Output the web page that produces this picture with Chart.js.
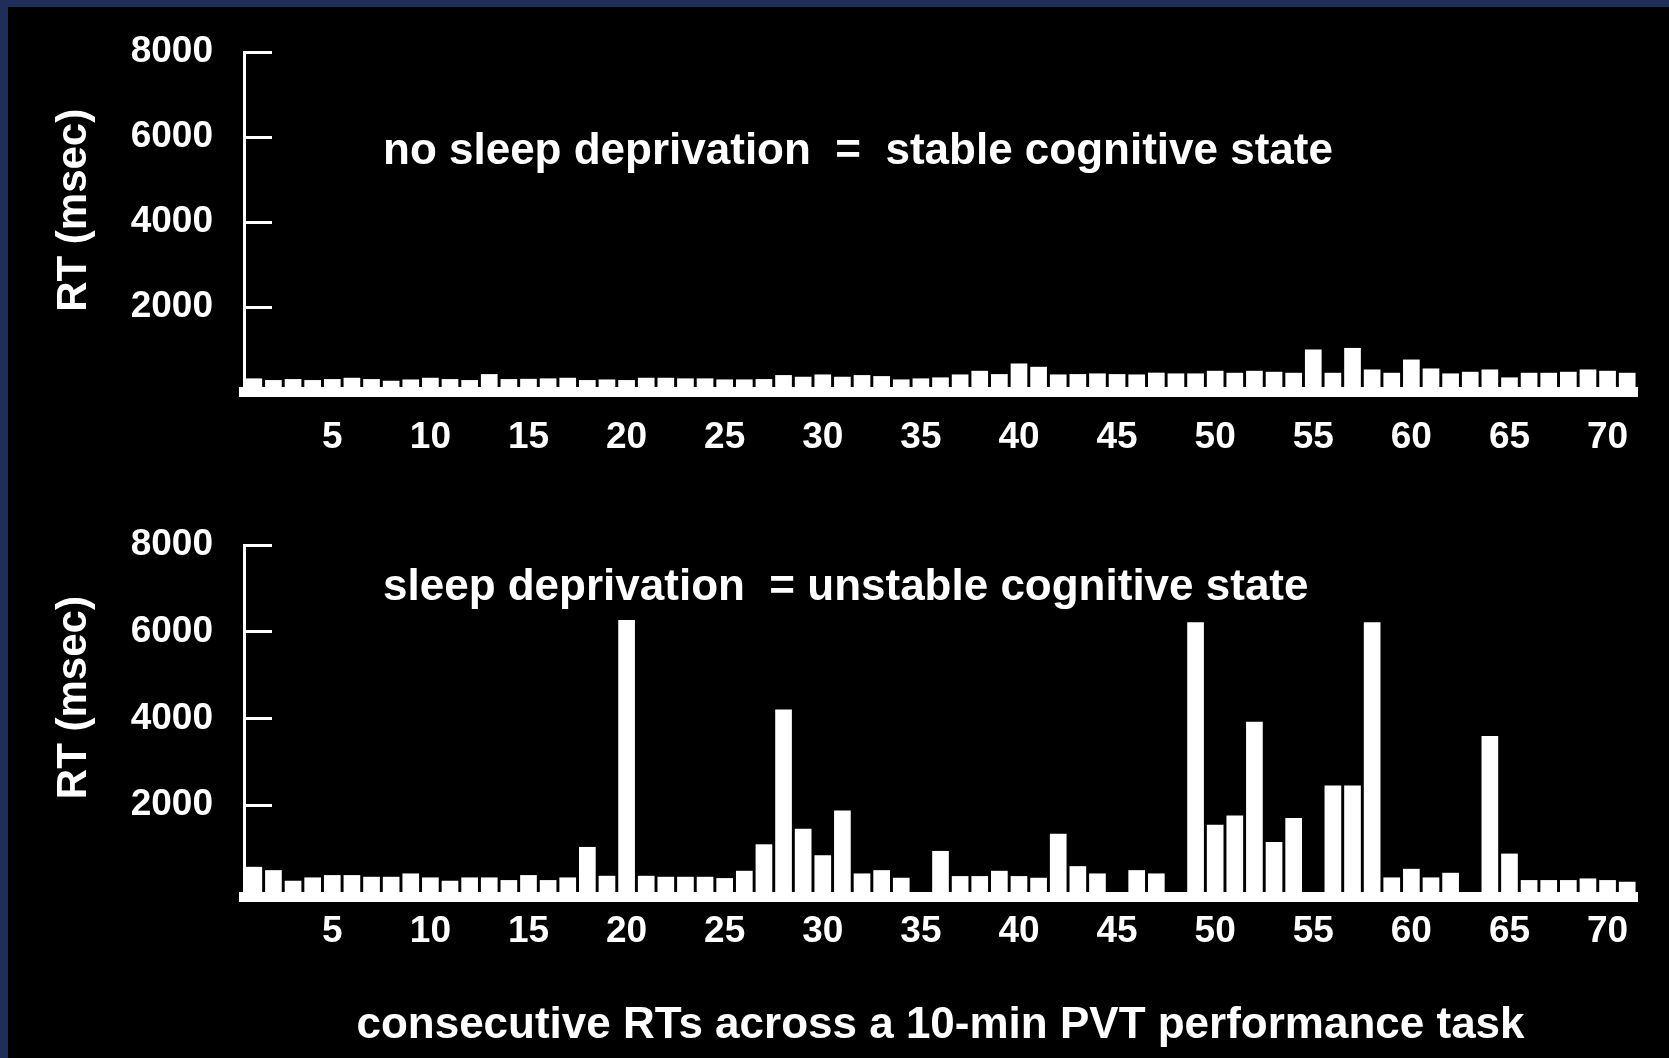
<!DOCTYPE html>
<html>
<head>
<meta charset="utf-8">
<script src="https://cdn.jsdelivr.net/npm/chart.js@4.4.1/dist/chart.umd.min.js"></script>
<style>
  html, body { margin: 0; padding: 0; }
  body { width: 1669px; height: 1058px; background: #1f2e58; position: relative; overflow: hidden; }
  #panel { position: absolute; left: 8px; top: 7px; right: 0; bottom: 0; background: #000; }
  .box { position: absolute; left: 0; width: 1669px; }
  #top { top: 0; height: 470px; }
  #bottom { top: 470px; height: 588px; }
</style>
</head>
<body>
<div id="panel"></div>
<div class="box" id="top"><canvas id="chartTop"></canvas></div>
<div class="box" id="bottom"><canvas id="chartBottom"></canvas></div>
<script>
// consecutive reaction times (trial number on x)
var trials = [1, 2, 3, 4, 5, 6, 7, 8, 9, 10, 11, 12, 13, 14, 15, 16, 17, 18, 19, 20,
              21, 22, 23, 24, 25, 26, 27, 28, 29, 30, 31, 32, 33, 34, 35, 36, 37, 38, 39, 40,
              41, 42, 43, 44, 45, 46, 47, 48, 49, 50, 51, 52, 53, 54, 55, 56, 57, 58, 59, 60,
              61, 62, 63, 64, 65, 66, 67, 68, 69, 70, 71];

var rtNoDeprivation = [320, 281, 304, 281, 304, 335, 304, 265, 295, 335,
                       304, 281, 421, 304, 310, 320, 335, 281, 295, 281,
                       335, 335, 320, 320, 296, 296, 304, 398, 359, 413,
                       359, 398, 374, 296, 320, 343, 413, 499, 421, 671,
                       593, 413, 421, 437, 421, 413, 455, 437, 437, 499,
                       452, 499, 476, 452, 1000, 452, 1037, 530, 452, 764,
                       554, 437, 476, 530, 343, 452, 452, 476, 530, 499, 452];

var rtSleepDeprived = [581, 504, 260, 336, 390, 390, 351, 351, 428, 336,
                       260, 336, 336, 275, 390, 275, 336, 1039, 374, 6273,
                       374, 351, 351, 351, 321, 489, 1100, 4210, 1459, 848,
                       1880, 428, 504, 329, null, 947, 367, 367, 489, 367,
                       329, 1345, 596, 428, null, 504, 428, null, 6220, 1551,
                       1765, 3927, 1154, 1704, null, 2453, 2453, 6220, 336, 535,
                       336, 443, null, 3599, 886, 275, 275, 275, 313, 275, 237];

var xTickLabels = [5, 10, 15, 20, 25, 30, 35, 40, 45, 50, 55, 60, 65, 70];
var yTickValues = [2000, 4000, 6000, 8000];

var FONT = '"Liberation Sans", Arial, sans-serif';
Chart.defaults.font.family = FONT;
Chart.defaults.color = '#ffffff';

// text written inside the plot area
var noteText = {
    id: 'noteText',
    afterDraw: function (chart, args, opts) {
        var ctx = chart.ctx;
        ctx.save();
        ctx.font = 'bold 44px ' + FONT;
        ctx.fillStyle = '#ffffff';
        ctx.textBaseline = 'middle';
        ctx.fillText(opts.text, chart.chartArea.left + opts.dx, chart.chartArea.top + opts.dy);
        ctx.restore();
    }
};

function makeChart(id, values, p) {
    var ctx = document.getElementById(id).getContext('2d');
    return new Chart(ctx, {
        type: 'bar',
        data: {
            labels: trials,
            datasets: [{
                data: values,
                backgroundColor: '#ffffff',
                borderWidth: 0,
                barPercentage: 0.85,
                categoryPercentage: 1.0
            }]
        },
        options: {
            responsive: true,
            maintainAspectRatio: false,
            animation: false,
            layout: { padding: { top: p.padTop, right: 32, left: 0, bottom: 0 } },
            plugins: {
                legend: { display: false },
                tooltip: { enabled: false },
                noteText: { text: p.note, dx: 139, dy: p.noteY }
            },
            scales: {
                x: {
                    grid: { display: false, drawTicks: false },
                    border: { display: true, color: '#ffffff', width: 10 },
                    ticks: {
                        autoSkip: false,
                        maxRotation: 0,
                        minRotation: 0,
                        padding: p.xPad,
                        color: '#ffffff',
                        font: { size: 37, weight: 'bold' },
                        callback: function (value) {
                            var label = this.getLabelForValue(value);
                            return xTickLabels.indexOf(label) >= 0 ? String(label) : '';
                        }
                    },
                    title: {
                        display: !!p.xTitle,
                        text: p.xTitle || '',
                        color: '#ffffff',
                        font: { size: 44, weight: 'bold' },
                        padding: { top: 0, bottom: 6 }
                    },
                    afterFit: function (scale) { scale.height = p.xHeight; }
                },
                y: {
                    min: p.yMin,
                    max: 8000,
                    afterBuildTicks: function (axis) {
                        axis.ticks = yTickValues.map(function (v) { return { value: v }; });
                    },
                    grid: {
                        display: true,
                        drawOnChartArea: false,
                        drawTicks: true,
                        tickLength: -28,
                        lineWidth: 3,
                        color: '#ffffff'
                    },
                    border: { display: true, color: '#ffffff', width: 3 },
                    ticks: {
                        padding: 59,
                        color: '#ffffff',
                        font: { size: 37, weight: 'bold' },
                        callback: function (value) { return String(value); }
                    },
                    title: {
                        display: true,
                        // leading spaces lift the rotated title like in the original
                        text: p.yTitle,
                        color: '#ffffff',
                        font: { size: 42, weight: 'bold' },
                        padding: { top: 49, bottom: 0 }
                    },
                    afterFit: function (scale) {
                        scale.width = 244;
                        scale.paddingTop = 0;
                        scale.paddingBottom = 0;
                    }
                }
            }
        },
        plugins: [noteText]
    });
}

makeChart('chartTop', rtNoDeprivation, {
    padTop: 52, yMin: 0, xHeight: 78, xPad: 24,
    yTitle: '  RT (msec)',
    note: 'no sleep deprivation  =  stable cognitive state', noteY: 100
});

makeChart('chartBottom', rtSleepDeprived, {
    padTop: 75, yMin: -115, xHeight: 161, xPad: 13,
    yTitle: '    RT (msec)',
    note: 'sleep deprivation  = unstable cognitive state', noteY: 43,
    xTitle: 'consecutive RTs across a 10-min PVT performance task'
});
</script>
</body>
</html>
